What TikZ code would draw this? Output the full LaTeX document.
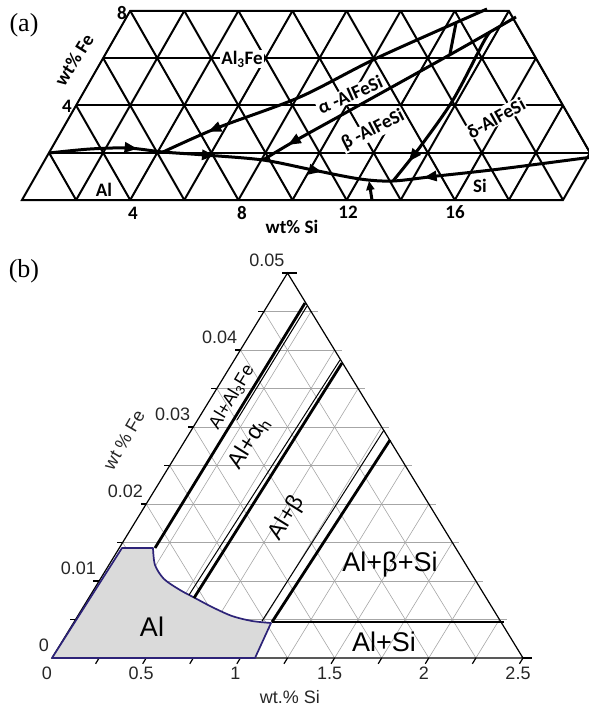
\documentclass[tikz,border=0pt]{standalone}
\usepackage{fontspec}
\setmainfont{Liberation Serif}
\newfontfamily\calfont{Carlito}
\newfontfamily\arifont{Liberation Sans}
\usetikzlibrary{arrows.meta, decorations.markings}

\definecolor{alnavy}{RGB}{45,35,120}
\definecolor{algray}{RGB}{218,218,218}

\tikzset{
  agrid/.style={line width=2pt},
  aline/.style={line width=3pt, line join=round},
  flowtip/.style={>={Triangle[length=13pt, width=10pt]}},
  alab/.style={font=\calfont\bfseries\fontsize{19}{19}\selectfont, fill=white, inner sep=1pt},
  anum/.style={font=\calfont\bfseries\fontsize{19}{19}\selectfont, inner sep=0pt},
  bgrid/.style={line width=0.6pt, black!35},
  bedge/.style={line width=1.2pt},
  bphase/.style={line width=2.8pt},
  bthin/.style={line width=1pt},
  blab/.style={font=\arifont\fontsize{27}{27}\selectfont, inner sep=0pt},
  bnum/.style={font=\arifont\fontsize{18}{18}\selectfont, text=black!85, inner sep=0pt},
}

\begin{document}
\begin{tikzpicture}[x=1pt, y=-1pt, flowtip]
  \useasboundingbox (0,0) rectangle (589,713);

  % (a)
  \node[font=\fontsize{26}{26}\selectfont] (taga) at (24,25) {(a)};
  \begin{scope}[shift={(22pt,-200pt)}, x={(27.05pt,0pt)}, y={(13.525pt,23.65pt)}]
    \begin{scope}
      \clip (0,0) -- (0,8) -- (14,8) -- (20,2) -- (20,0) -- cycle;
      \foreach \f in {2,4,6} \draw[agrid] (0,\f) -- (22,\f);
      \foreach \s in {2,4,...,18} \draw[agrid] (\s,0) -- (\s,8);
      \foreach \c in {2,4,...,26} \draw[agrid] (\c,0) -- (\c-8,8);
    \end{scope}
    \draw[agrid] (0,0) -- (0,8) -- (14,8) -- (20,2) -- (20,0) -- cycle;
  \end{scope}

  \node[alab] (al3fe) at (242,59) {Al\textsubscript{3}Fe};
  \node[alab, rotate=24] (alpha) at (350,95) {α -AlFeSi};
  \node[alab, rotate=27] (beta) at (373,130) {β -AlFeSi};
  \node[alab, rotate=29] (delta) at (496,118) {δ-AlFeSi};
  \node[alab] (si) at (480,186) {Si};
  \node[alab] (al) at (104,190) {Al};
  \node[anum, rotate=58] (fe) at (74,60) {wt\% Fe};
  \node[anum] (fe8) at (122,13) {8};
  \node[anum] (fe4) at (67,106) {4};
  \node[anum] (si4) at (133,213) {4};
  \node[anum] (si8) at (242,213) {8};
  \node[anum] (si12) at (348,212) {12};
  \node[anum] (si16) at (455,212) {16};
  \node[anum] (siax) at (292,227) {wt\% Si};

  \coordinate (c0) at (49,153);
  \coordinate (j1) at (163,152);
  \coordinate (j2) at (263,160);
  \coordinate (j3) at (393,181);
  \coordinate (cr) at (600,156);
  \coordinate (at) at (487,9);
  \coordinate (bt) at (516,17);
  \coordinate (dt) at (490,32);
  \coordinate (s0) at (456,23);
  \coordinate (s1) at (450,54);
  \coordinate (e0) at (372,200);
  \coordinate (e1) at (369,181);

  \draw[aline, postaction={decorate}, decoration={markings,
      mark=at position 0.16 with {\arrow{>}},
      mark=at position 0.30 with {\arrow{>}},
      mark=at position 0.495 with {\arrow{>}},
      mark=at position 0.68 with {\arrowreversed{>}}}]
    plot[smooth] coordinates {(c0) (90,149) (128,148) (j1) (205,155) (j2) (313,170) (360,179) (j3) (437,176) (500,169) (cr)};
  \draw[aline, postaction={decorate}, decoration={markings, mark=at position 0.86 with {\arrow{>}}}]
    plot[smooth] coordinates {(at) (377,58) (300,97) (217,128) (j1)};
  \draw[aline, postaction={decorate}, decoration={markings, mark=at position 0.9 with {\arrow{>}}}]
    plot[smooth] coordinates {(bt) (453,53) (347,112) (293,142) (j2)};
  \draw[aline, postaction={decorate}, decoration={markings, mark=at position 0.86 with {\arrow{>}}}]
    plot[smooth] coordinates {(dt) (483,43) (453,100) (420,147) (j3)};
  \draw[aline] (s0) -- (s1);
  \draw[aline, -{Triangle[length=9pt, width=8pt]}] (e0) -- (e1);

  % (b)
  \node[font=\fontsize{26}{26}\selectfont] (tagb) at (24,271) {(b)};
  \begin{scope}[shift={(52pt,-658pt)}, x={(47.1pt,0pt)}, y={(23.55pt,38.5pt)}]
    \foreach \v in {1,...,9} \draw[bgrid] (0,\v) -- (10-\v+0.15,\v);
    \foreach \u in {1,...,9} \draw[bgrid] (\u,0) -- (\u,10-\u);
    \foreach \c in {1,...,9} \draw[bgrid] (\c,0) -- (0,\c);
    \draw[bedge] (0,0) -- (10,0) -- (0,10) -- cycle;
    \draw[bedge] (10,0) -- (10.2,0) (0,10) -- (0.2,10);
    \foreach \v in {1,...,10} \draw[bedge] (0,\v) -- (-0.12,\v);
    \foreach \u in {1,...,10} \draw[bedge] (\u,0) -- (\u,-0.15);
    \foreach \v/\t in {0/0, 2/0.01, 4/0.02, 6/0.03, 8/0.04, 10/0.05}
      \node[bnum, anchor=south east] at ([shift={(-3pt,6pt)}]0,\v) {\t};
    \foreach \u/\t in {0/0, 2/0.5, 4/1, 6/1.5, 8/2, 10/2.5}
      \node[bnum, anchor=north] at ([shift={(-5pt,-9pt)}]\u,0) {\t};
  \end{scope}

  \coordinate (o) at (52,658);
  \coordinate (p1) at (122,548);
  \coordinate (p2) at (153,548);
  \coordinate (p3) at (271,623);
  \coordinate (p4) at (255,658);
  \filldraw[fill=algray, draw=alnavy, line width=1.7pt, line join=round]
    (o) -- (p1) -- (p2) -- plot[smooth] coordinates {(p2) (155,565) (164,579) (180,590) (195,598) (212,607) (232,616) (252,621) (p3)} -- (p4) -- cycle;

  \coordinate (a0) at (155,548);
  \coordinate (a1) at (305,303);
  \coordinate (b0) at (194,598);
  \coordinate (b1) at (342,363);
  \coordinate (k0) at (272,622);
  \coordinate (k1) at (390,440);
  \coordinate (d1) at (504,622);
  \draw[bphase] (a0) -- (a1);
  \draw[bthin] (237,420) -- (307,306);
  \draw[bphase] (b0) -- (b1);
  \draw[bthin] (189,595) -- (340,360);
  \draw[bphase] (k0) -- (k1);
  \draw[bthin] (262,621) -- (384,430);
  \draw[bphase] (k0) -- (d1);

  \node[blab] (alreg) at (152,627) {Al};
  \node[blab] (albsi) at (390,565) {Al+β+Si};
  \node[blab] (alsi) at (384,642) {Al+Si};
  \node[blab, font=\arifont\fontsize{23}{23}\selectfont, rotate=58] (alb) at (287,518) {Al+β};
  \node[blab, font=\arifont\fontsize{23}{23}\selectfont, rotate=58] (alah) at (249,443) {Al+α\textsubscript{h}};
  \node[blab, font=\arifont\fontsize{18}{18}\selectfont, rotate=59] (alal) at (232,397) {Al+Al\textsubscript{3}Fe};
  \node[bnum, rotate=60] (feax) at (124,440) {wt \% Fe};
  \node[bnum] (siaxb) at (290,697) {wt.\% Si};
\end{tikzpicture}
\end{document}
